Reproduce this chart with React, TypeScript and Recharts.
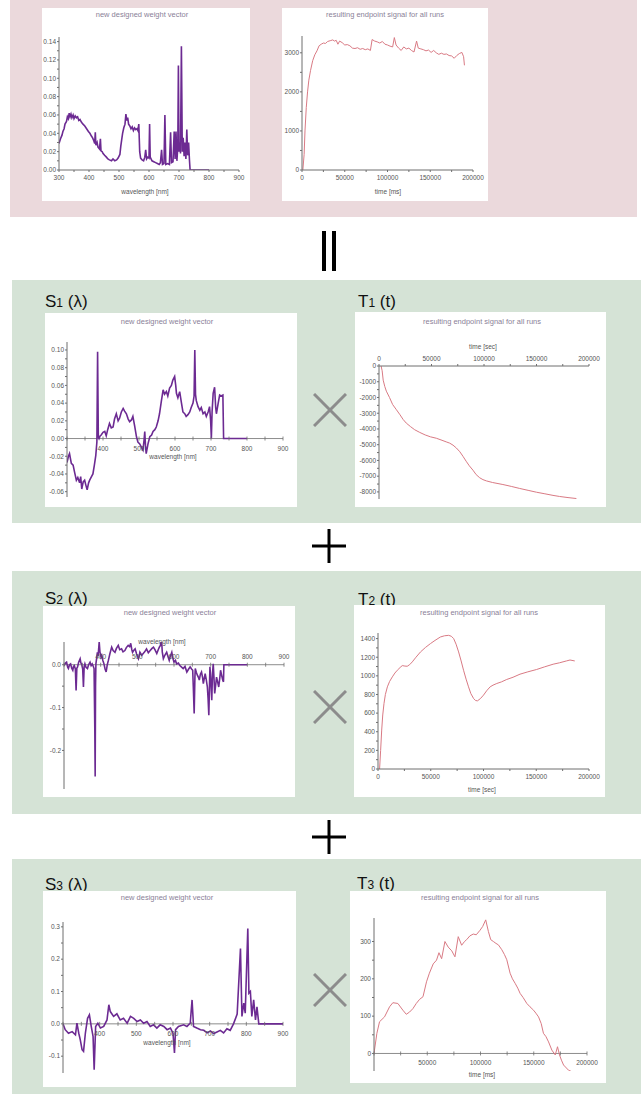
import React from "react";
import { LineChart, Line, XAxis, YAxis, ReferenceLine, ReferenceDot } from "recharts";

const FONT = '"Liberation Sans", Arial, sans-serif';
const PINK_BG = "#ebd9dc";
const GREEN_BG = "#d5e3d6";
const PURPLE = "#6c2a92";
const RED = "#d97a84";
const AXIS = "#6f6f6f";
const TICK_TXT = "#555";
const TITLE_TXT = "#8a7f98";

// ---- top: combined weight vector ----
const s0Wave = [
  300, 305, 310, 313, 317, 320, 325, 328, 331, 334,
  337, 340, 343, 347, 350, 354, 358, 362, 366, 370,
  375, 380, 386, 392, 398, 403, 408, 412, 416, 419,
  421, 423, 427, 430, 435, 438, 440, 444, 447, 452,
  458, 463, 468, 475, 480, 486, 492, 497, 503, 506,
  509, 512, 516, 520, 523, 526, 529, 532, 536, 540,
  544, 548, 552, 556, 560, 563, 566, 569, 572, 577,
  582, 586, 589, 592, 596, 600, 602, 604, 610, 616,
  622, 628, 634, 638, 642, 645, 650, 653, 656, 662,
  668, 672, 675, 680, 684, 687, 690, 693, 696, 698,
  700, 703, 705, 708, 711, 714, 717, 720, 723, 726,
  729, 732, 735, 737, 760, 800,
];
const s0Weight = [
  0.029, 0.034, 0.038, 0.042, 0.045, 0.05, 0.053, 0.058, 0.056, 0.062,
  0.058, 0.061, 0.057, 0.06, 0.056, 0.059, 0.057, 0.058, 0.054, 0.055,
  0.052, 0.05, 0.048, 0.045, 0.042, 0.04, 0.037, 0.035, 0.032, 0.029,
  0.041, 0.027, 0.03, 0.025, 0.023, 0.034, 0.021, 0.02, 0.018, 0.016,
  0.014, 0.012, 0.011, 0.01, 0.012, 0.01, 0.011, 0.013, 0.017, 0.026,
  0.033, 0.04, 0.046, 0.05, 0.061, 0.054, 0.057, 0.05, 0.048, 0.045,
  0.047, 0.043, 0.046, 0.044, 0.045, 0.043, 0.05, 0.02, 0.013, 0.011,
  0.01, 0.014, 0.022, 0.012, 0.014, 0.013, 0.05, 0.014, 0.01, 0.009,
  0.008, 0.007, 0.006, 0.008, 0.022, 0.006, 0.007, 0.06, 0.006, 0.007,
  0.006, 0.041, 0.008, 0.009, 0.042, 0.012, 0.042, 0.01, 0.025, 0.114,
  0.02, 0.03, 0.018, 0.135, 0.02, 0.035, 0.015, 0.03, 0.012, 0.044,
  0.016, 0.03, 0.01, 0, 0, 0,
];

// ---- top: combined endpoint signal ----
const t0Time = [
  1000, 2500, 3500, 5000, 6500, 8000, 10000, 12500, 15000, 17500,
  20000, 22500, 25000, 27500, 30000, 33000, 36000, 38000, 40000, 42000,
  44000, 47000, 50000, 53000, 56000, 59000, 62000, 65000, 68000, 71000,
  74000, 77000, 80000, 82000, 85000, 88000, 91000, 94000, 97000, 100000,
  103000, 106000, 108000, 110000, 113000, 116000, 119000, 122000, 125000, 128000,
  131000, 134000, 136000, 139000, 142000, 145000, 148000, 151000, 154000, 157000,
  160000, 163000, 166000, 169000, 172000, 175000, 178000, 181000, 184000, 187000,
  189000, 190000,
];
const t0Signal = [
  0, 400, 1000, 1600, 2000, 2300, 2550, 2800, 2950, 3050,
  3180, 3220, 3250, 3240, 3290, 3310, 3330, 3300, 3320, 3220,
  3300, 3260, 3200, 3210, 3180, 3120, 3110, 3130, 3090, 3110,
  3080, 3100, 3060, 3340, 3300, 3280, 3250, 3290, 3220, 3200,
  3170, 3150, 3390, 3200, 3120, 3060, 3150, 3100, 3120, 3060,
  3020, 3300, 3120, 3100, 3080, 3050, 3070, 3010, 3060, 3000,
  2960, 2990, 2960, 2970, 2930, 2920, 2860, 2930, 2980, 3010,
  2900, 2680,
];

// ---- S1 ----
const s1Wave = [
  300, 304, 307, 312, 317, 321, 326, 330, 335, 338,
  341, 345, 349, 352, 356, 360, 363, 368, 372, 376,
  380, 383, 385, 387, 389, 392, 395, 400, 405, 409,
  413, 418, 423, 428, 432, 437, 442, 446, 451, 456,
  460, 465, 470, 474, 479, 483, 488, 493, 497, 502,
  507, 511, 514, 516, 518, 520, 525, 530, 535, 539,
  544, 548, 553, 557, 562, 567, 571, 576, 580, 585,
  590, 594, 599, 602, 604, 608, 613, 618, 622, 627,
  631, 636, 641, 645, 650, 653, 655, 657, 659, 664,
  669, 673, 678, 683, 687, 692, 696, 699, 701, 703,
  706, 710, 713, 715, 720, 724, 728, 733, 735, 760,
  800,
];
const s1Weight = [
  -0.027, -0.02, -0.017, -0.028, -0.03, -0.038, -0.047, -0.044, -0.05, -0.043,
  -0.057, -0.049, -0.047, -0.052, -0.058, -0.05, -0.047, -0.043, -0.04, -0.03,
  -0.019, -0.004, 0.098, 0.002, 0, 0.003, 0.004, 0.007, 0.008, 0.003,
  0.01, 0.017, 0.012, 0.013, 0.022, 0.028, 0.02, 0.023, 0.03, 0.034,
  0.031, 0.028, 0.022, 0.019, 0.021, 0.025, 0.014, 0.002, -0.004, -0.006,
  -0.01, -0.013, -0.002, 0.008, -0.008, -0.017, -0.006, 0.002, 0.004, 0.008,
  0.01, 0.013, 0.02, 0.028, 0.042, 0.055, 0.05, 0.053, 0.048, 0.057,
  0.06, 0.066, 0.07, 0.06, 0.051, 0.046, 0.053, 0.04, 0.03, 0.028,
  0.025, 0.027, 0.03, 0.035, 0.04, 0.048, 0.1, 0.05, 0.043, 0.036,
  0.032, 0.035, 0.028, 0.03, 0.025, 0.03, 0.036, 0.02, 0, 0.03,
  0.051, 0.058, 0.035, 0.028, 0.04, 0.049, 0.048, 0.049, 0, 0,
  0,
];

// ---- T1 ----
const t1Time = [
  2000, 3000, 4000, 5500, 7000, 10000, 13000, 16600, 20000, 23000,
  26000, 30000, 34000, 38800, 44000, 49000, 54600, 60000, 64000, 67300,
  70500, 73700, 77000, 80000, 83000, 86000, 89500, 92500, 95900, 99000,
  102300, 108000, 118000, 126000, 134000, 142000, 150000, 158000, 165700, 172000,
  180000, 188000,
];
const t1Signal = [
  0, -300, -900, -1300, -1600, -2000, -2450, -2780, -3100, -3400,
  -3630, -3850, -4050, -4220, -4380, -4500, -4590, -4720, -4820, -4900,
  -5030, -5210, -5450, -5740, -6050, -6340, -6620, -6900, -7100, -7220,
  -7300, -7400, -7530, -7650, -7780, -7900, -8020, -8120, -8220, -8290,
  -8360, -8420,
];

// ---- S2 ----
const s2Wave = [
  300, 304, 307, 310, 312, 315, 318, 321, 324, 326,
  328, 331, 333, 335, 337, 340, 344, 346, 348, 351,
  353, 355, 357, 360, 364, 367, 371, 374, 377, 380,
  382, 384, 385, 386, 387, 389, 391, 393, 396, 398,
  401, 403, 406, 409, 412, 415, 418, 421, 425, 430,
  434, 439, 443, 448, 452, 457, 461, 466, 470, 475,
  479, 482, 485, 487, 490, 494, 498, 503, 505, 507,
  512, 516, 520, 525, 530, 535, 540, 544, 548, 553,
  557, 560, 563, 566, 568, 571, 575, 580, 584, 587,
  590, 594, 597, 600, 604, 607, 612, 616, 620, 625,
  630, 635, 640, 644, 648, 651, 653, 655, 657, 658,
  661, 664, 667, 669, 672, 675, 678, 680, 683, 685,
  688, 691, 693, 695, 697, 698, 700, 703, 705, 707,
  709, 711, 714, 716, 719, 722, 725, 727, 730, 733,
  735, 736, 760, 800,
];
const s2Weight = [
  -0.002, 0.004, 0.006, -0.006, -0.009, 0, 0.002, -0.008, -0.013, -0.004,
  -0.002, -0.01, -0.06, -0.008, -0.005, 0.006, 0.014, 0.004, 0.002, -0.01,
  -0.052, -0.004, 0.002, -0.006, -0.009, 0, 0.006, -0.002, 0.002, -0.004,
  -0.009, -0.15, -0.261, -0.05, 0.002, 0.015, 0.029, 0.02, 0.053, 0.03,
  0.018, 0.022, 0.01, 0.002, -0.01, -0.017, 0, 0.01, 0.025, 0.041,
  0.033, 0.029, 0.038, 0.045, 0.035, 0.037, 0.03, 0.033, 0.04, 0.045,
  0.042, 0.05, 0.035, 0.029, 0.033, 0.037, 0.025, 0.014, 0.02, 0.029,
  0.022, 0.026, 0.03, 0.037, 0.028, 0.033, 0.038, 0.041, 0.035, 0.026,
  0.035, 0.041, 0.045, 0.06, 0.03, 0.014, 0.022, 0.029, 0.018, 0.01,
  0.02, 0.029, 0.015, 0.006, 0.01, 0.002, 0.004, -0.002, -0.005, -0.009,
  -0.004, -0.017, -0.01, -0.005, -0.01, -0.013, -0.06, -0.114, -0.03, -0.009,
  -0.018, -0.025, -0.03, -0.036, -0.022, -0.017, -0.03, -0.044, -0.03, -0.021,
  -0.035, -0.052, -0.08, -0.118, -0.04, -0.005, -0.03, -0.083, -0.02, 0.002,
  -0.03, -0.067, -0.045, -0.029, -0.04, -0.052, -0.03, -0.013, -0.025, -0.036,
  -0.04, 0, 0, 0,
];

// ---- T2 ----
const t2Time = [
  1500, 2500, 3500, 4500, 5700, 7000, 8900, 11000, 13600, 16000,
  18300, 21000, 23000, 25500, 27700, 30000, 32500, 36000, 40300, 45000,
  49700, 54000, 59100, 63000, 67000, 69500, 71700, 74000, 76400, 78800,
  81100, 83500, 85800, 88000, 90600, 92500, 94300, 97000, 100000, 103000,
  106300, 109000, 112600, 117000, 122000, 128000, 134600, 142000, 150300, 158000,
  166000, 172000, 178600, 182000, 186500,
];
const t2Signal = [
  0, 200, 418, 580, 704, 800, 882, 940, 989, 1030,
  1060, 1090, 1110, 1105, 1103, 1120, 1150, 1200, 1257, 1305,
  1346, 1380, 1417, 1430, 1435, 1425, 1400, 1340, 1257, 1160,
  1060, 965, 882, 810, 757, 735, 732, 755, 793, 840,
  882, 900, 918, 935, 961, 985, 1018, 1043, 1068, 1097,
  1125, 1140, 1160, 1170, 1160,
];

// ---- S3 ----
const s3Wave = [
  300, 306, 315, 325, 334, 338, 343, 347, 352, 356,
  361, 367, 372, 377, 382, 385, 389, 395, 402, 411,
  420, 425, 429, 438, 447, 456, 465, 475, 484, 493,
  502, 511, 520, 529, 538, 547, 556, 565, 575, 584,
  593, 600, 604, 607, 615, 629, 638, 647, 652, 656,
  665, 675, 684, 693, 702, 711, 720, 729, 738, 747,
  756, 765, 775, 784, 788, 793, 797, 804, 807, 811,
  815, 820, 825, 829, 834, 850, 900,
];
const s3Weight = [
  0, -0.018, -0.029, -0.024, -0.034, 0.002, -0.029, -0.049, -0.08, -0.085,
  -0.029, 0.017, 0.028, -0.008, -0.039, -0.142, -0.008, 0.002, -0.013, -0.008,
  0.012, 0.059, 0.038, 0.023, 0.031, 0.012, 0.017, 0.002, 0.023, 0.017,
  0.007, 0.012, 0.002, 0.007, -0.008, -0.003, -0.013, -0.003, -0.008, -0.018,
  -0.013, -0.029, -0.09, -0.018, -0.008, -0.003, -0.008, 0.002, 0.074, -0.008,
  -0.013, -0.018, -0.02, -0.028, -0.022, -0.03, -0.025, -0.02, -0.028, -0.015,
  -0.02, 0, 0.03, 0.233, 0.023, 0.064, 0.033, 0.295, 0.095, 0.1,
  0.023, 0.074, 0.012, 0.053, 0, 0, 0,
];

// ---- T3 ----
const t3Time = [
  0, 2700, 5200, 9900, 14600, 17700, 22400, 27100, 30300, 33400,
  36500, 39700, 42800, 46000, 49300, 52000, 55600, 58700, 61000, 63500,
  66600, 69700, 73000, 76000, 79100, 82300, 85000, 87000, 90000, 93200,
  96000, 99500, 102000, 104900, 107400, 109600, 112100, 114500, 116800, 120000,
  122500, 124700, 127800, 130000, 132500, 135000, 137200, 140000, 143500, 146500,
  149800, 152000, 154500, 157000, 159100, 161500, 163900, 167000, 170200, 172300,
  174200, 176000, 178000, 182700, 185900,
];
const t3Signal = [
  0, 54, 85, 98, 125, 136, 134, 116, 105, 111,
  120, 134, 145, 152, 192, 215, 240, 250, 270, 254,
  300, 285, 275, 259, 313, 290, 300, 305, 315, 320,
  318, 330, 340, 358, 327, 305, 300, 295, 291, 278,
  265, 251, 215, 200, 188, 175, 161, 150, 134, 125,
  116, 108, 98, 80, 54, 45, 31, 9, -4, 18,
  -4, -18, -31, -45, -49,
];

// ---- ticks ----
const waveTicks = [300, 400, 500, 600, 700, 800, 900];
const timeTicks = [0, 50000, 100000, 150000, 200000];
const s0Ticks = [0, 0.02, 0.04, 0.06, 0.08, 0.1, 0.12, 0.14];
const t0Ticks = [0, 1000, 2000, 3000];
const s1Ticks = [-0.06, -0.04, -0.02, 0, 0.02, 0.04, 0.06, 0.08, 0.1];
const t1Ticks = [-8000, -7000, -6000, -5000, -4000, -3000, -2000, -1000, 0];
const s2Ticks = [-0.2, -0.1, 0];
const t2Ticks = [0, 200, 400, 600, 800, 1000, 1200, 1400];
const s3Ticks = [-0.1, 0, 0.1, 0.2, 0.3];
const t3Ticks = [0, 100, 200, 300];

const mids = (a: number[]) => a.slice(1).map((v, i) => (v + a[i]) / 2);
const zip = (xs: number[], ys: number[]) => xs.map((x, i) => ({ x, y: ys[i] }));
const f2 = (v: number) => v.toFixed(2);
const f1 = (v: number) => v.toFixed(1);
const fi = (v: number) => String(Math.round(v));

type Mode = "bottom" | "top" | "zero";
interface PlotProps {
  left: number; top: number; width: number; height: number;
  title: string; titleX: number; titleY: number;
  xLabel: string; xLabelX: number; xLabelY: number;
  data: { x: number; y: number }[];
  color: string; sw: number;
  xDomain: [number, number]; yDomain: [number, number];
  xTicks: number[]; xLabels: number[]; xMinor: number[];
  yTicks: number[]; yMinor: number[];
  xFmt: (v: number) => string; yFmt: (v: number) => string;
  pad: { l: number; r: number; t: number; b: number };
  mode: Mode; side?: "below" | "above";
}

const tickStyle = { fontSize: 6.5, fill: TICK_TXT, fontFamily: FONT };

function Plot(p: PlotProps) {
  const labelSet = new Set(p.xLabels);
  const ySet = new Set(p.yTicks);
  const allX = [...p.xTicks, ...p.xMinor].sort((a, b) => a - b);
  const allY = [...p.yTicks, ...p.yMinor].sort((a, b) => a - b);
  const margin = {
    top: p.mode === "top" ? 0 : p.pad.t,
    right: p.pad.r,
    bottom: p.mode === "bottom" ? 0 : p.pad.b,
    left: 0,
  };
  const xHeight = p.mode === "zero" ? 0 : p.mode === "top" ? p.pad.t : p.pad.b;
  const zeroTick = (v: number) => (props: any) => {
    const { cx, cy } = props;
    const lab = labelSet.has(v) ? p.xFmt(v) : "";
    return (
      <g>
        <line x1={cx} x2={cx} y1={cy - 2} y2={cy + 2} stroke={AXIS} strokeWidth={0.8} />
        {lab && (
          <text x={cx} y={p.side === "above" ? cy - 6 : cy + 12} textAnchor="middle" {...tickStyle}>
            {lab}
          </text>
        )}
      </g>
    );
  };
  const txt: React.CSSProperties = {
    position: "absolute", transform: "translate(-50%, -50%)", whiteSpace: "nowrap",
    fontFamily: FONT, lineHeight: 1,
  };
  return (
    <div style={{ position: "absolute", left: p.left, top: p.top, width: p.width, height: p.height, background: "#fff" }}>
      <LineChart width={p.width} height={p.height} data={p.data} margin={margin}>
        <XAxis
          type="number" dataKey="x" domain={p.xDomain} allowDataOverflow
          ticks={allX} interval={0} hide={p.mode === "zero"} height={xHeight}
          orientation={p.mode === "top" ? "top" : "bottom"}
          tickFormatter={(v: number) => (labelSet.has(v) ? p.xFmt(v) : "")}
          tick={tickStyle} tickSize={2} tickMargin={3} stroke={AXIS}
        />
        <YAxis
          type="number" domain={p.yDomain} allowDataOverflow ticks={allY} interval={0}
          width={p.pad.l} tickFormatter={(v: number) => (ySet.has(v) ? p.yFmt(v) : "")}
          tick={tickStyle} tickSize={2} tickMargin={1} stroke={AXIS}
        />
        {p.mode === "zero" && <ReferenceLine y={0} stroke={AXIS} strokeWidth={0.8} />}
        {p.mode === "zero" &&
          allX.map((v) => <ReferenceDot key={v} x={v} y={0} r={0} shape={zeroTick(v)} />)}
        <Line type="linear" dataKey="y" stroke={p.color} strokeWidth={p.sw} dot={false} isAnimationActive={false} />
      </LineChart>
      <div style={{ ...txt, left: p.titleX, top: p.titleY, fontSize: 7.5, color: TITLE_TXT }}>{p.title}</div>
      <div style={{ ...txt, left: p.xLabelX, top: p.xLabelY, fontSize: 6.5, color: TICK_TXT }}>{p.xLabel}</div>
    </div>
  );
}

function PanelLabel({ x, y, letter, sub, arg }: { x: number; y: number; letter: string; sub: string; arg: string }) {
  return (
    <div style={{ position: "absolute", left: x, top: y, fontSize: 17, lineHeight: "17px", color: "#111", fontFamily: FONT, whiteSpace: "nowrap" }}>
      {letter}
      <span style={{ fontSize: 12 }}>{sub}</span> ({arg})
    </div>
  );
}

function Times({ cx, cy }: { cx: number; cy: number }) {
  return (
    <svg style={{ position: "absolute", left: cx - 17, top: cy - 17 }} width={34} height={34}>
      <line x1={1} y1={1} x2={33} y2={33} stroke="#8c8c8c" strokeWidth={3} />
      <line x1={33} y1={1} x2={1} y2={33} stroke="#8c8c8c" strokeWidth={3} />
    </svg>
  );
}

function Plus({ cx, cy }: { cx: number; cy: number }) {
  return (
    <svg style={{ position: "absolute", left: cx - 17, top: cy - 17 }} width={34} height={34}>
      <line x1={0} y1={17} x2={34} y2={17} stroke="#000" strokeWidth={3} />
      <line x1={17} y1={0} x2={17} y2={34} stroke="#000" strokeWidth={3} />
    </svg>
  );
}

const WAVE_TITLE = "new designed weight vector";
const SIG_TITLE = "resulting endpoint signal for all runs";

export default function App() {
  return (
    <div style={{ position: "absolute", left: 0, top: 0, width: 642, height: 1096, background: "#fff", overflow: "hidden", fontFamily: FONT }}>
      <div style={{ position: "absolute", left: 10, top: 0, width: 627, height: 217, background: PINK_BG }} />
      <div style={{ position: "absolute", left: 12, top: 280, width: 629, height: 243, background: GREEN_BG }} />
      <div style={{ position: "absolute", left: 12, top: 571, width: 629, height: 243, background: GREEN_BG }} />
      <div style={{ position: "absolute", left: 12, top: 859, width: 629, height: 235, background: GREEN_BG }} />

      {/* equals-like double bar */}
      <div style={{ position: "absolute", left: 322, top: 231, width: 4, height: 40, background: "#000" }} />
      <div style={{ position: "absolute", left: 332, top: 231, width: 4, height: 40, background: "#000" }} />
      <Plus cx={329} cy={546} />
      <Plus cx={329} cy={837} />
      <Times cx={329.5} cy={410} />
      <Times cx={329.5} cy={707} />
      <Times cx={329.5} cy={990} />

      <Plot
        left={42} top={8} width={208} height={193}
        title={WAVE_TITLE} titleX={100} titleY={7}
        xLabel="wavelength [nm]" xLabelX={103} xLabelY={184}
        data={zip(s0Wave, s0Weight)} color={PURPLE} sw={1.6}
        xDomain={[300, 900]} yDomain={[0, 0.145]}
        xTicks={waveTicks} xLabels={waveTicks} xMinor={mids(waveTicks)}
        yTicks={s0Ticks} yMinor={mids(s0Ticks)} xFmt={fi} yFmt={f2}
        pad={{ l: 17, r: 11, t: 29, b: 31 }} mode="bottom"
      />
      <Plot
        left={282} top={8} width={206} height={193}
        title={SIG_TITLE} titleX={103} titleY={7}
        xLabel="time [ms]" xLabelX={106} xLabelY={184}
        data={zip(t0Time, t0Signal)} color={RED} sw={1}
        xDomain={[0, 200000]} yDomain={[0, 3430]}
        xTicks={timeTicks} xLabels={timeTicks} xMinor={mids(timeTicks)}
        yTicks={t0Ticks} yMinor={mids(t0Ticks)} xFmt={fi} yFmt={fi}
        pad={{ l: 20, r: 15, t: 28, b: 31 }} mode="bottom"
      />

      <PanelLabel x={45} y={293} letter="S" sub="1" arg="λ" />
      <PanelLabel x={358} y={293} letter="T" sub="1" arg="t" />
      <Plot
        left={45} top={313} width={252} height={194}
        title={WAVE_TITLE} titleX={122} titleY={9}
        xLabel="wavelength [nm]" xLabelX={128} xLabelY={144}
        data={zip(s1Wave, s1Weight)} color={PURPLE} sw={1.6}
        xDomain={[300, 900]} yDomain={[-0.066, 0.109]}
        xTicks={waveTicks} xLabels={waveTicks.slice(1)} xMinor={mids(waveTicks)}
        yTicks={s1Ticks} yMinor={mids(s1Ticks)} xFmt={fi} yFmt={f2}
        pad={{ l: 22, r: 14, t: 29, b: 10 }} mode="zero" side="below"
      />
      <Plot
        left={355} top={312} width={251} height={195}
        title={SIG_TITLE} titleX={127} titleY={10}
        xLabel="time [sec]" xLabelX={128} xLabelY={35}
        data={zip(t1Time, t1Signal)} color={RED} sw={1}
        xDomain={[0, 200000]} yDomain={[-8450, 0]}
        xTicks={timeTicks} xLabels={timeTicks} xMinor={mids(timeTicks)}
        yTicks={t1Ticks} yMinor={mids(t1Ticks)} xFmt={fi} yFmt={fi}
        pad={{ l: 24, r: 17, t: 54, b: 8 }} mode="top"
      />

      <PanelLabel x={45} y={590} letter="S" sub="2" arg="λ" />
      <PanelLabel x={358} y={591} letter="T" sub="2" arg="t" />
      <Plot
        left={43} top={606} width={252} height={191}
        title={WAVE_TITLE} titleX={127} titleY={7}
        xLabel="wavelength [nm]" xLabelX={119} xLabelY={36}
        data={zip(s2Wave, s2Weight)} color={PURPLE} sw={1.6}
        xDomain={[300, 900]} yDomain={[-0.29, 0.053]}
        xTicks={waveTicks} xLabels={waveTicks.slice(1)} xMinor={mids(waveTicks)}
        yTicks={s2Ticks} yMinor={mids(s2Ticks)} xFmt={fi} yFmt={f1}
        pad={{ l: 21, r: 11, t: 36, b: 8 }} mode="zero" side="above"
      />
      <Plot
        left={354} top={605} width={251} height={192}
        title={SIG_TITLE} titleX={125} titleY={8}
        xLabel="time [sec]" xLabelX={128} xLabelY={185}
        data={zip(t2Time, t2Signal)} color={RED} sw={1}
        xDomain={[0, 200000]} yDomain={[0, 1460]}
        xTicks={timeTicks} xLabels={timeTicks} xMinor={mids(timeTicks)}
        yTicks={t2Ticks} yMinor={mids(t2Ticks)} xFmt={fi} yFmt={fi}
        pad={{ l: 24, r: 16, t: 28, b: 28 }} mode="bottom"
      />

      <PanelLabel x={45} y={876} letter="S" sub="3" arg="λ" />
      <PanelLabel x={357} y={875} letter="T" sub="3" arg="t" />
      <Plot
        left={43} top={891} width={253} height={196}
        title={WAVE_TITLE} titleX={124} titleY={7}
        xLabel="wavelength [nm]" xLabelX={124} xLabelY={152}
        data={zip(s3Wave, s3Weight)} color={PURPLE} sw={1.6}
        xDomain={[300, 900]} yDomain={[-0.152, 0.315]}
        xTicks={waveTicks} xLabels={waveTicks.slice(1)} xMinor={mids(waveTicks)}
        yTicks={s3Ticks} yMinor={mids(s3Ticks)} xFmt={fi} yFmt={f1}
        pad={{ l: 20, r: 13, t: 31, b: 14 }} mode="zero" side="below"
      />
      <Plot
        left={350} top={891} width={256} height={192}
        title={SIG_TITLE} titleX={130} titleY={7}
        xLabel="time [ms]" xLabelX={132} xLabelY={184}
        data={zip(t3Time, t3Signal)} color={RED} sw={1}
        xDomain={[0, 200000]} yDomain={[-47, 363]}
        xTicks={timeTicks} xLabels={timeTicks.slice(1)} xMinor={mids(timeTicks)}
        yTicks={t3Ticks} yMinor={mids(t3Ticks)} xFmt={fi} yFmt={fi}
        pad={{ l: 24, r: 19, t: 27, b: 12 }} mode="zero" side="below"
      />
    </div>
  );
}
